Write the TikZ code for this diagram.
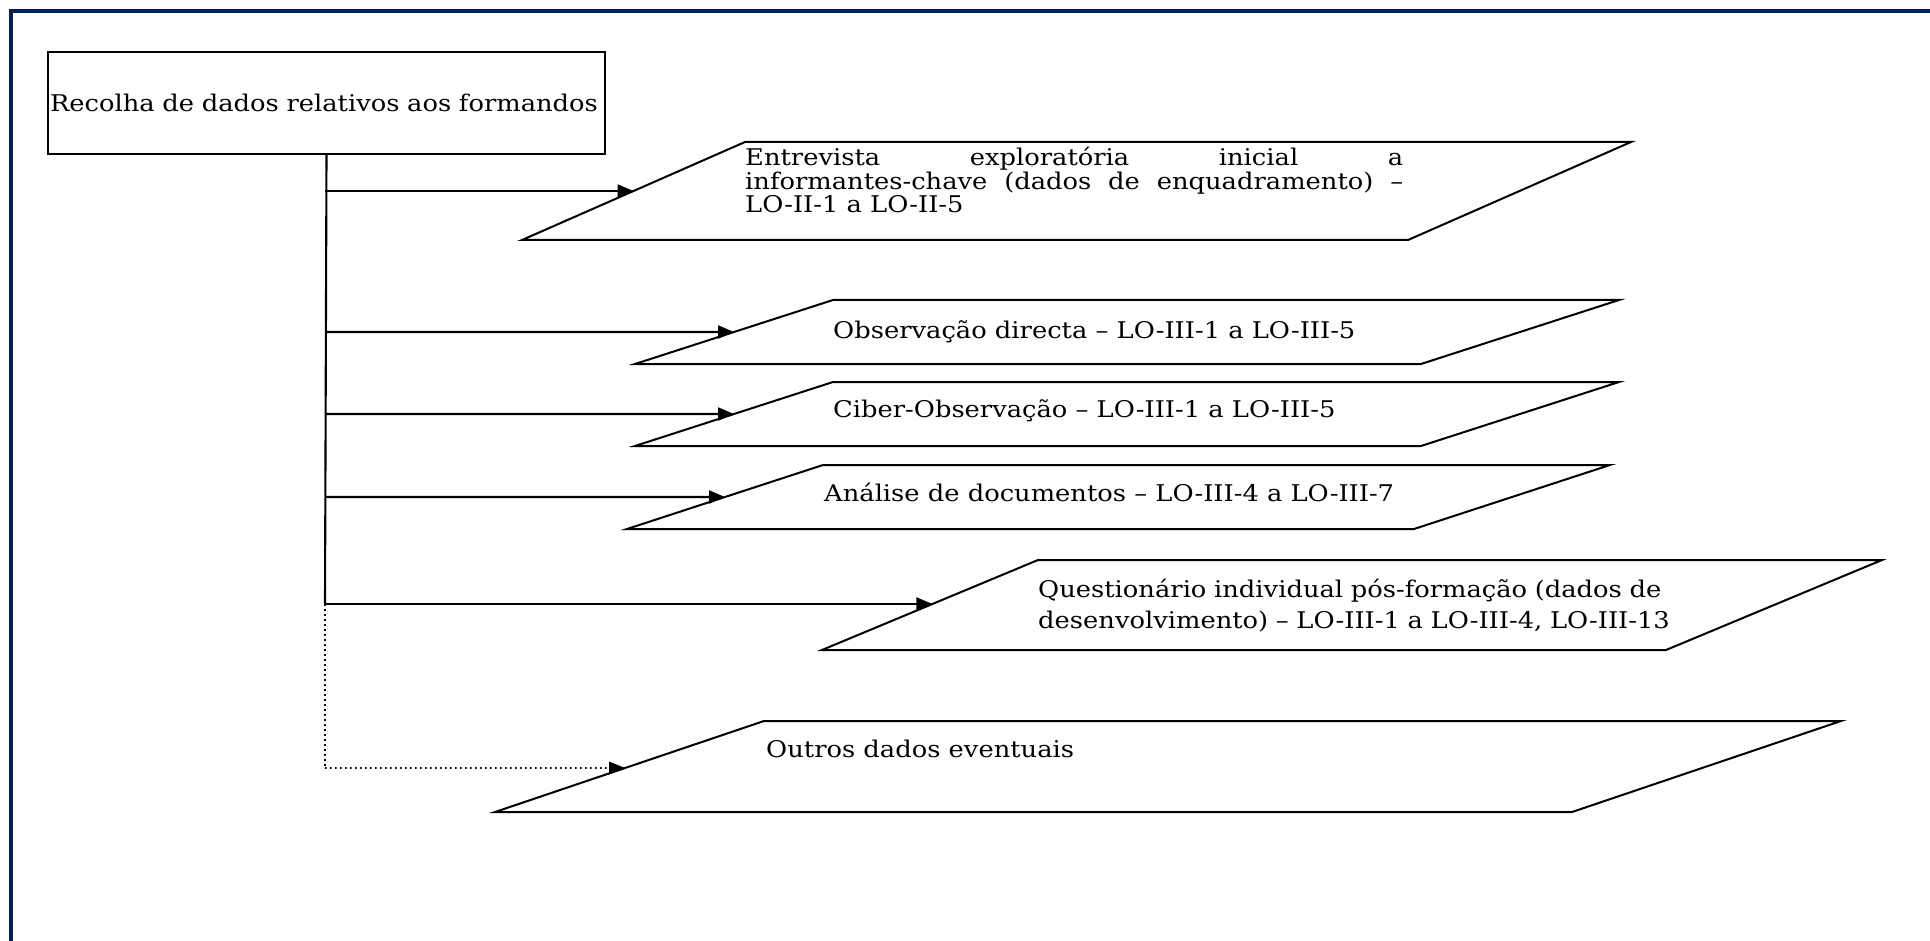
\documentclass[tikz,border=0pt]{standalone}
\usepackage{fontspec}
\setmainfont[FakeStretch=1.12]{DejaVu Serif}
\usetikzlibrary{arrows.meta,calc}
\definecolor{framenavy}{HTML}{002060}

% one data source: a parallelogram given by its lower-left corner,
% its upper-left corner and its width
\newcommand\sourceshape[6]{%
  \coordinate (#1-bl) at (#2,#3);
  \coordinate (#1-tl) at (#4,#5);
  \coordinate (#1-tr) at (#4+#6,#5);
  \coordinate (#1-br) at (#2+#6,#3);
  \draw[srcshape] (#1-bl) -- (#1-tl) -- (#1-tr) -- (#1-br) -- cycle;}

% branch from the trunk at height #2 into the slanted side of shape #1
\newcommand\feed[3]{%
  \coordinate (#1-j) at (325,#2);
  \coordinate (#1-k) at (1900,#2);
  \coordinate (#1-in) at (intersection of #1-j--#1-k and #1-bl--#1-tl);
  \draw[#3] (#1-j) -- (#1-in);}

\begin{document}
\begin{tikzpicture}[x=1pt,y=-1pt,
  srcshape/.style={draw,line width=2pt,line join=miter},
  link/.style={line width=2.1pt,-{Triangle[length=16pt,width=13pt]}},
  dots/.style={line width=1.7pt,dash pattern=on 1.7pt off 3.3pt},
  optlink/.style={dots,-{Triangle[length=16pt,width=13pt,line width=0pt]}},
  trunk/.style={line width=2.1pt},
  txt/.style={inner sep=0pt,anchor=base west,
    font=\fontsize{23}{23.5}\selectfont},
]
\useasboundingbox (0,0) rectangle (1930,941);
\fill[white] (0,0) rectangle (1930,941);

% page frame
\draw[framenavy,line width=4pt] (10.5,960) -- (10.5,11) -- (1950,11);

% origin box
\node[draw,line width=2pt,anchor=north west,minimum width=557pt,
  minimum height=102pt,inner xsep=2pt,text width=553pt,align=left,
  font=\fontsize{23}{26}\selectfont] (src) at (47,51)
  {Recolha de dados relativos aos formandos};

% data sources
\sourceshape{in1}{522}{240}{745}{142}{886}
\sourceshape{in2}{635}{364}{833}{300}{786}
\sourceshape{in3}{635}{446}{833}{382}{786}
\sourceshape{in4}{627}{529}{823}{465}{787}
\sourceshape{in5}{822}{650}{1038}{560}{844}
\sourceshape{in6}{495}{812}{764}{721}{1077}

\node[txt,text width=658pt,align=justify] (l1) at (745,166)
  {Entrevista exploratória inicial a\linebreak
   informantes-chave (dados de enquadramento) –\linebreak
   LO-II-1 a LO-II-5};
\node[txt] (l2) at (833,338) {Observação directa – LO-III-1 a LO-III-5};
\node[txt] (l3) at (833,417) {Ciber-Observação – LO-III-1 a LO-III-5};
\node[txt] (l4) at (824,501) {Análise de documentos – LO-III-4 a LO-III-7};
\node[txt,text width=720pt,align=left,
  font=\fontsize{23}{31}\selectfont] (l5) at (1038,597)
  {Questionário individual pós-formação (dados de\\
   desenvolvimento) – LO-III-1 a LO-III-4, LO-III-13};
\node[txt] (l6) at (766,757) {Outros dados eventuais};

% connectors
\feed{in1}{191}{link}
\feed{in2}{332}{link}
\feed{in3}{414}{link}
\feed{in4}{497}{link}
\feed{in5}{604}{link}
\feed{in6}{768}{optlink}
\draw[trunk] (src.south) -- (in5-j);
\draw[dots] (in5-j) -- (in6-j);
\end{tikzpicture}
\end{document}
